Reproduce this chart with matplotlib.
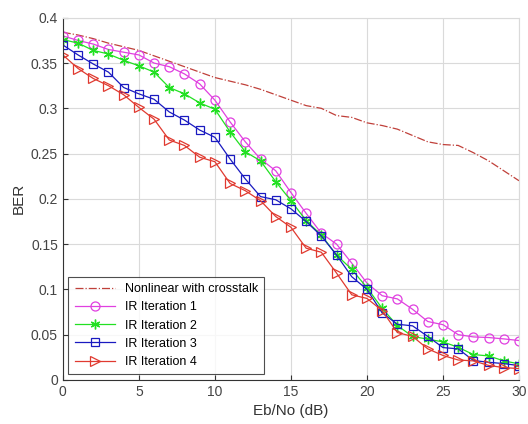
import numpy as np
import matplotlib
matplotlib.use("Agg")
from matplotlib import pyplot as plt

plt.rcParams["font.family"] = ["Liberation Sans", "DejaVu Sans"]

ebno = list(range(0, 31))

ber_crosstalk = [0.384, 0.381, 0.377, 0.372, 0.368, 0.364, 0.358, 0.352, 0.346, 0.340,
                 0.334, 0.330, 0.326, 0.321, 0.315, 0.309, 0.303, 0.300, 0.292, 0.290,
                 0.284, 0.281, 0.277, 0.270, 0.263, 0.260, 0.259, 0.251, 0.242, 0.231,
                 0.220]
ber_ir1 = [0.380, 0.375, 0.371, 0.365, 0.362, 0.359, 0.350, 0.346, 0.338, 0.327,
           0.309, 0.285, 0.263, 0.244, 0.231, 0.207, 0.184, 0.162, 0.150, 0.129,
           0.107, 0.093, 0.0895, 0.078, 0.0645, 0.061, 0.050, 0.0475, 0.0468, 0.0453,
           0.0435]
ber_ir2 = [0.376, 0.372, 0.364, 0.360, 0.353, 0.347, 0.340, 0.323, 0.316, 0.306,
           0.299, 0.274, 0.252, 0.242, 0.219, 0.198, 0.176, 0.160, 0.138, 0.122,
           0.102, 0.079, 0.060, 0.048, 0.045, 0.042, 0.036, 0.028, 0.0265, 0.021,
           0.0177]
ber_ir3 = [0.370, 0.359, 0.349, 0.340, 0.323, 0.316, 0.310, 0.296, 0.287, 0.276,
           0.268, 0.244, 0.222, 0.2025, 0.199, 0.189, 0.175, 0.159, 0.138, 0.114,
           0.100, 0.074, 0.0615, 0.0597, 0.048, 0.0357, 0.0343, 0.0214, 0.0195, 0.018,
           0.0158]
ber_ir4 = [0.359, 0.344, 0.333, 0.325, 0.315, 0.301, 0.288, 0.265, 0.259, 0.246,
           0.241, 0.217, 0.209, 0.198, 0.1805, 0.1686, 0.1455, 0.141, 0.118, 0.094,
           0.090, 0.0766, 0.0523, 0.048, 0.0343, 0.027, 0.022, 0.021, 0.016, 0.0136,
           0.0125]

fig = plt.figure(figsize=(5.28, 4.24), dpi=100)
ax = fig.add_axes([0.119, 0.104, 0.864, 0.854])

# MATLAB-style asterisk: six spokes
asterisk = (6, 2, 0)

ax.plot(ebno, ber_crosstalk, linestyle="-.", color="#C0403A", lw=0.9,
        label="Nonlinear with crosstalk")
ax.plot(ebno, ber_ir1, "-o", color="#E040E0", lw=0.9, ms=6.5, mfc="none",
        mew=0.9, label="IR Iteration 1")
ax.plot(ebno, ber_ir2, "-", marker=asterisk, color="#22E022", lw=0.9, ms=7,
        mew=1.0, label="IR Iteration 2")
ax.plot(ebno, ber_ir3, "-s", color="#1A1AC0", lw=0.9, ms=5.5, mfc="none",
        mew=0.9, label="IR Iteration 3")
ax.plot(ebno, ber_ir4, "->", color="#E03A30", lw=0.9, ms=6.5, mfc="none",
        mew=0.9, label="IR Iteration 4")

ax.set_xlim(0, 30)
ax.set_ylim(0, 0.4)
ax.set_xticks([0, 5, 10, 15, 20, 25, 30])
ax.set_yticks([0, 0.05, 0.1, 0.15, 0.2, 0.25, 0.3, 0.35, 0.4])
ax.set_yticklabels(["0", "0.05", "0.1", "0.15", "0.2", "0.25", "0.3", "0.35", "0.4"])
ax.grid(True, color="#DADADA", lw=0.8)
ax.set_axisbelow(True)
for side in ("top", "right"):
    ax.spines[side].set_color("#DADADA")
for side in ("left", "bottom"):
    ax.spines[side].set_color("#333333")
ax.tick_params(direction="in", labelsize=10, colors="#333333", labelcolor="#444444")
ax.set_xlabel("Eb/No (dB)", fontsize=11, color="#333333")
ax.set_ylabel("BER", fontsize=11, color="#333333")

leg = ax.legend(loc="lower left", fontsize=9, frameon=True, fancybox=False,
                edgecolor="#222222", borderaxespad=0.45, handlelength=3.2,
                labelspacing=0.5, borderpad=0.5)
leg.get_frame().set_linewidth(0.8)

fig.savefig("out.png", dpi=100)
